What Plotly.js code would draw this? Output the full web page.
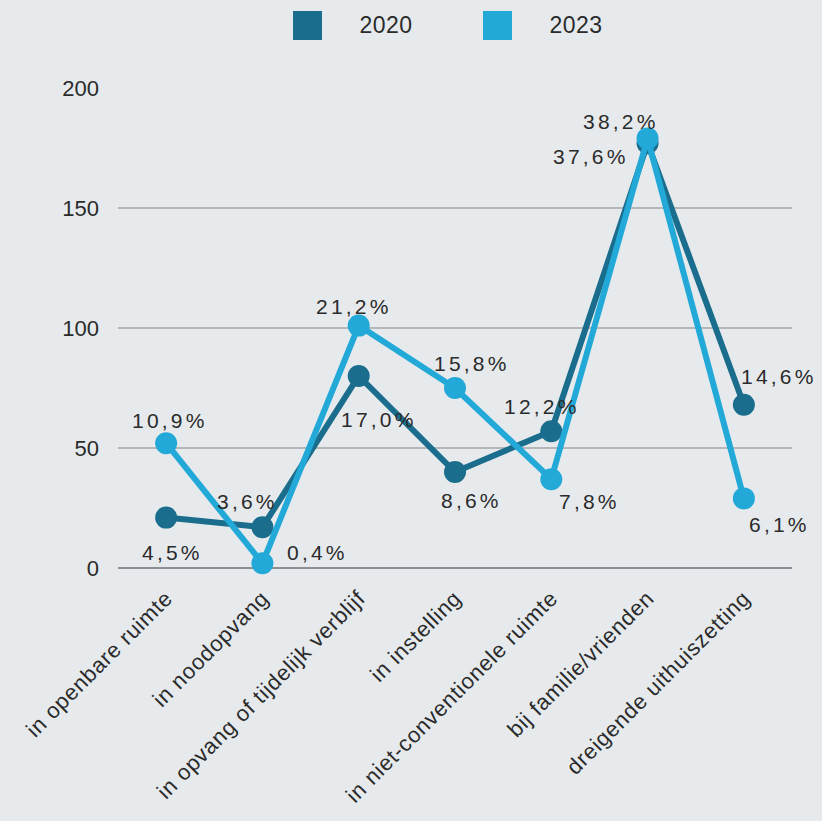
<!DOCTYPE html>
<html>
<head>
<meta charset="utf-8">
<script src="https://cdn.plot.ly/plotly-3.0.1.min.js"></script>
<style>
  html, body { margin: 0; padding: 0; background: #e6eaed; }
  #chart { width: 822px; height: 821px; }
  .annotation-text { letter-spacing: 3.2px; }
  .annotation[data-index="14"] .annotation-text,
  .annotation[data-index="15"] .annotation-text { letter-spacing: 0.5px; }
  .xtick text { letter-spacing: 0.7px; }
</style>
</head>
<body>
<div id="chart"></div>
<script>
const categories = [
  'in openbare ruimte',
  'in noodopvang',
  'in opvang of tijdelijk verblijf',
  'in instelling',
  'in niet-conventionele ruimte',
  'bij familie/vrienden',
  'dreigende uithuiszetting'
];
const values2020 = [21, 17, 80, 40, 57, 177, 68];
const values2023 = [52, 2, 101, 75, 37, 179, 29];
const labels2020 = ['4,5%', '3,6%', '17,0%', '8,6%', '12,2%', '37,6%', '14,6%'];
const labels2023 = ['10,9%', '0,4%', '21,2%', '15,8%', '7,8%', '38,2%', '6,1%'];
const seriesNames = ['2020', '2023'];

const colDark = '#1a6d8c';
const colLight = '#22a9d8';
const textCol = '#2b2b2b';
const fontFam = '"Liberation Sans", Arial, sans-serif';

// label offsets in pixels (dx right, dy down) relative to the marker
const off2020 = [[6, 35], [-15, -26], [20, 43], [16, 28], [-9, -25], [-57, 13], [35, -28]];
const off2023 = [[4, -23], [55, -11], [-5, -19], [17, -25], [38, 22], [-27, -17], [36, 26]];

function lineTrace(name, vals, color) {
  return {
    type: 'scatter',
    mode: 'lines+markers',
    name: name,
    x: categories,
    y: vals,
    line: { color: color, width: 6 },
    marker: { color: color, size: 22 },
    cliponaxis: false,
    showlegend: false,
    hoverinfo: 'x+y'
  };
}

const traces = [
  lineTrace(seriesNames[0], values2020, colDark),
  lineTrace(seriesNames[1], values2023, colLight)
];

const annotations = [];
function addLabels(vals, labels, offs) {
  for (let i = 0; i < categories.length; i++) {
    annotations.push({
      x: categories[i], y: vals[i], xref: 'x', yref: 'y',
      text: labels[i], showarrow: false,
      xanchor: 'center', yanchor: 'middle',
      xshift: offs[i][0], yshift: -offs[i][1],
      font: { family: fontFam, size: 21, color: textCol }
    });
  }
}
addLabels(values2020, labels2020, off2020);
addLabels(values2023, labels2023, off2023);

// legend (drawn manually: square swatches)
const plotL = 118, plotW = 674, plotBottom = 568, plotH = 480;
function px2x(p) { return (p - plotL) / plotW; }
function py2y(p) { return (plotBottom - p) / plotH; }
const legendItems = [
  { name: seriesNames[0], color: colDark, x0: 293, textX: 352 },
  { name: seriesNames[1], color: colLight, x0: 483, textX: 542 }
];
const shapes = [];
legendItems.forEach(it => {
  shapes.push({
    type: 'rect', xref: 'paper', yref: 'paper',
    x0: px2x(it.x0), x1: px2x(it.x0 + 29),
    y0: py2y(40), y1: py2y(11),
    fillcolor: it.color, line: { width: 0 }
  });
  annotations.push({
    xref: 'paper', yref: 'paper',
    x: px2x(it.textX), y: py2y(25),
    xanchor: 'left', yanchor: 'middle',
    text: it.name, showarrow: false,
    font: { family: fontFam, size: 23, color: textCol }
  });
});

const layout = {
  width: 822, height: 821,
  paper_bgcolor: '#e6eaed',
  plot_bgcolor: '#e6eaed',
  margin: { l: 118, r: 30, t: 88, b: 253 },
  showlegend: false,
  font: { family: fontFam, color: textCol },
  xaxis: {
    type: 'category',
    range: [-0.5, 6.5],
    tickangle: -45,
    showgrid: false,
    zeroline: false,
    showline: false,
    ticks: '',
    ticklabelstandoff: 12,
    tickfont: { family: fontFam, size: 22, color: textCol }
  },
  yaxis: {
    range: [0, 200],
    tickvals: [0, 50, 100, 150, 200],
    showgrid: true,
    gridcolor: '#b3b7ba',
    gridwidth: 2,
    zeroline: true,
    zerolinecolor: '#8c9094',
    zerolinewidth: 2,
    showline: false,
    ticks: '',
    ticklabelstandoff: 18,
    tickfont: { family: fontFam, size: 22, color: textCol }
  },
  shapes: shapes,
  annotations: annotations
};

Plotly.newPlot('chart', traces, layout, { displayModeBar: false, staticPlot: true });
</script>
</body>
</html>
